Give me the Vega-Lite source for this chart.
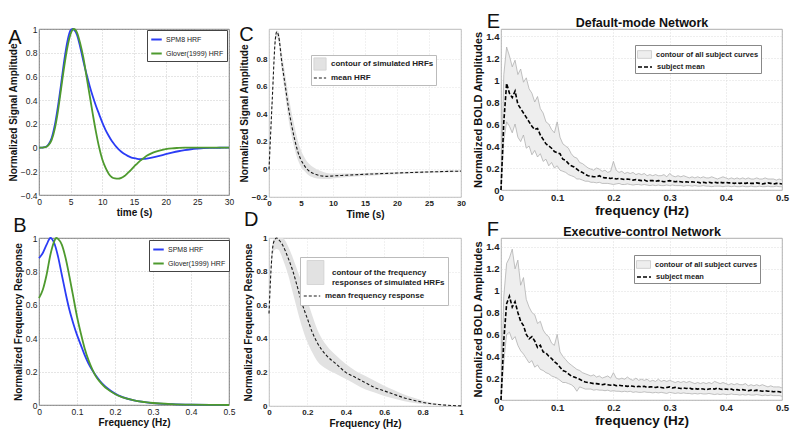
{
  "$schema": "https://vega.github.io/schema/vega-lite/v6.json",
  "padding": {"left": 7, "top": 11, "right": 5, "bottom": 5},
  "background": "white",
  "config": {
    "font": "Liberation Sans",
    "view": {"stroke": "#555", "strokeWidth": 0.8},
    "axis": {"ticks": false, "domain": false, "grid": true, "gridDash": [1, 2], "gridColor": "#b5b5b5", "gridWidth": 0.7, "labelPadding": 2, "labelColor": "#222", "titleColor": "#111", "titleFontWeight": "bold", "labelFlush": false, "labelOverlap": false, "titlePadding": 2},
    "title": {"anchor": "start", "frame": "bounds", "fontSize": 20, "fontWeight": "normal", "font": "Liberation Sans", "color": "#111", "offset": 0},
    "legend": {"orient": "none", "padding": 2, "rowPadding": 3, "cornerRadius": 0, "labelFontWeight": "bold", "labelColor": "#222", "labelFontSize": 8}
  },
  "resolve": {"scale": {"color": "independent", "strokeDash": "independent"}, "legend": {"color": "independent", "strokeDash": "independent"}},
  "datasets": {
    "a": [
      {"s":"SPM8 HRF","t":0,"v":0},{"s":"SPM8 HRF","t":0.5,"v":0},{"s":"SPM8 HRF","t":1,"v":0.003},{"s":"SPM8 HRF","t":1.5,"v":0.025},{"s":"SPM8 HRF","t":2,"v":0.08},{"s":"SPM8 HRF","t":2.5,"v":0.19},{"s":"SPM8 HRF","t":3,"v":0.35},{"s":"SPM8 HRF","t":3.5,"v":0.54},{"s":"SPM8 HRF","t":4,"v":0.74},{"s":"SPM8 HRF","t":4.5,"v":0.9},{"s":"SPM8 HRF","t":5,"v":0.99},{"s":"SPM8 HRF","t":5.3,"v":1},{"s":"SPM8 HRF","t":5.6,"v":0.99},{"s":"SPM8 HRF","t":6,"v":0.95},{"s":"SPM8 HRF","t":6.5,"v":0.85},{"s":"SPM8 HRF","t":7,"v":0.73},{"s":"SPM8 HRF","t":7.5,"v":0.62},{"s":"SPM8 HRF","t":8,"v":0.52},{"s":"SPM8 HRF","t":8.5,"v":0.43},{"s":"SPM8 HRF","t":9,"v":0.35},{"s":"SPM8 HRF","t":9.5,"v":0.28},{"s":"SPM8 HRF","t":10,"v":0.21},{"s":"SPM8 HRF","t":10.5,"v":0.15},{"s":"SPM8 HRF","t":11,"v":0.1},{"s":"SPM8 HRF","t":11.5,"v":0.055},{"s":"SPM8 HRF","t":12,"v":0.02},{"s":"SPM8 HRF","t":12.5,"v":-0.01},{"s":"SPM8 HRF","t":13,"v":-0.035},{"s":"SPM8 HRF","t":13.5,"v":-0.055},{"s":"SPM8 HRF","t":14,"v":-0.07},{"s":"SPM8 HRF","t":14.5,"v":-0.082},{"s":"SPM8 HRF","t":15,"v":-0.09},{"s":"SPM8 HRF","t":15.5,"v":-0.095},{"s":"SPM8 HRF","t":16,"v":-0.097},{"s":"SPM8 HRF","t":16.5,"v":-0.096},{"s":"SPM8 HRF","t":17,"v":-0.093},{"s":"SPM8 HRF","t":18,"v":-0.083},{"s":"SPM8 HRF","t":19,"v":-0.07},{"s":"SPM8 HRF","t":20,"v":-0.056},{"s":"SPM8 HRF","t":21,"v":-0.043},{"s":"SPM8 HRF","t":22,"v":-0.031},{"s":"SPM8 HRF","t":23,"v":-0.021},{"s":"SPM8 HRF","t":24,"v":-0.014},{"s":"SPM8 HRF","t":25,"v":-0.009},{"s":"SPM8 HRF","t":26,"v":-0.005},{"s":"SPM8 HRF","t":27,"v":-0.003},{"s":"SPM8 HRF","t":28,"v":-0.002},{"s":"SPM8 HRF","t":29,"v":-0.001},{"s":"SPM8 HRF","t":30,"v":0},
      {"s":"Glover(1999) HRF","t":0,"v":0},{"s":"Glover(1999) HRF","t":0.5,"v":0},{"s":"Glover(1999) HRF","t":1,"v":0.003},{"s":"Glover(1999) HRF","t":1.5,"v":0.02},{"s":"Glover(1999) HRF","t":2,"v":0.065},{"s":"Glover(1999) HRF","t":2.5,"v":0.16},{"s":"Glover(1999) HRF","t":3,"v":0.31},{"s":"Glover(1999) HRF","t":3.5,"v":0.5},{"s":"Glover(1999) HRF","t":4,"v":0.69},{"s":"Glover(1999) HRF","t":4.5,"v":0.85},{"s":"Glover(1999) HRF","t":5,"v":0.96},{"s":"Glover(1999) HRF","t":5.5,"v":1},{"s":"Glover(1999) HRF","t":6,"v":0.97},{"s":"Glover(1999) HRF","t":6.5,"v":0.88},{"s":"Glover(1999) HRF","t":7,"v":0.76},{"s":"Glover(1999) HRF","t":7.5,"v":0.6},{"s":"Glover(1999) HRF","t":8,"v":0.44},{"s":"Glover(1999) HRF","t":8.5,"v":0.28},{"s":"Glover(1999) HRF","t":9,"v":0.13},{"s":"Glover(1999) HRF","t":9.5,"v":0},{"s":"Glover(1999) HRF","t":10,"v":-0.1},{"s":"Glover(1999) HRF","t":10.5,"v":-0.17},{"s":"Glover(1999) HRF","t":11,"v":-0.22},{"s":"Glover(1999) HRF","t":11.5,"v":-0.25},{"s":"Glover(1999) HRF","t":12,"v":-0.26},{"s":"Glover(1999) HRF","t":12.5,"v":-0.262},{"s":"Glover(1999) HRF","t":13,"v":-0.255},{"s":"Glover(1999) HRF","t":13.5,"v":-0.24},{"s":"Glover(1999) HRF","t":14,"v":-0.215},{"s":"Glover(1999) HRF","t":14.5,"v":-0.19},{"s":"Glover(1999) HRF","t":15,"v":-0.16},{"s":"Glover(1999) HRF","t":15.5,"v":-0.135},{"s":"Glover(1999) HRF","t":16,"v":-0.11},{"s":"Glover(1999) HRF","t":16.5,"v":-0.09},{"s":"Glover(1999) HRF","t":17,"v":-0.07},{"s":"Glover(1999) HRF","t":18,"v":-0.043},{"s":"Glover(1999) HRF","t":19,"v":-0.025},{"s":"Glover(1999) HRF","t":20,"v":-0.013},{"s":"Glover(1999) HRF","t":21,"v":-0.006},{"s":"Glover(1999) HRF","t":22,"v":-0.003},{"s":"Glover(1999) HRF","t":23,"v":-0.001},{"s":"Glover(1999) HRF","t":24,"v":0},{"s":"Glover(1999) HRF","t":26,"v":0},{"s":"Glover(1999) HRF","t":28,"v":0},{"s":"Glover(1999) HRF","t":30,"v":0}
    ],
    "b": [
      {"s":"SPM8 HRF","f":0,"v":0.88},{"s":"SPM8 HRF","f":0.01,"v":0.91},{"s":"SPM8 HRF","f":0.02,"v":0.96},{"s":"SPM8 HRF","f":0.03,"v":1},{"s":"SPM8 HRF","f":0.04,"v":0.97},{"s":"SPM8 HRF","f":0.05,"v":0.89},{"s":"SPM8 HRF","f":0.06,"v":0.78},{"s":"SPM8 HRF","f":0.07,"v":0.67},{"s":"SPM8 HRF","f":0.08,"v":0.57},{"s":"SPM8 HRF","f":0.09,"v":0.49},{"s":"SPM8 HRF","f":0.1,"v":0.42},{"s":"SPM8 HRF","f":0.11,"v":0.36},{"s":"SPM8 HRF","f":0.12,"v":0.3},{"s":"SPM8 HRF","f":0.13,"v":0.25},{"s":"SPM8 HRF","f":0.14,"v":0.21},{"s":"SPM8 HRF","f":0.15,"v":0.175},{"s":"SPM8 HRF","f":0.16,"v":0.145},{"s":"SPM8 HRF","f":0.17,"v":0.12},{"s":"SPM8 HRF","f":0.18,"v":0.1},{"s":"SPM8 HRF","f":0.2,"v":0.068},{"s":"SPM8 HRF","f":0.22,"v":0.047},{"s":"SPM8 HRF","f":0.25,"v":0.027},{"s":"SPM8 HRF","f":0.3,"v":0.011},{"s":"SPM8 HRF","f":0.35,"v":0.005},{"s":"SPM8 HRF","f":0.4,"v":0.002},{"s":"SPM8 HRF","f":0.45,"v":0.001},{"s":"SPM8 HRF","f":0.5,"v":0},
      {"s":"Glover(1999) HRF","f":0,"v":0.64},{"s":"Glover(1999) HRF","f":0.01,"v":0.69},{"s":"Glover(1999) HRF","f":0.02,"v":0.78},{"s":"Glover(1999) HRF","f":0.03,"v":0.9},{"s":"Glover(1999) HRF","f":0.04,"v":0.98},{"s":"Glover(1999) HRF","f":0.045,"v":1},{"s":"Glover(1999) HRF","f":0.05,"v":0.995},{"s":"Glover(1999) HRF","f":0.06,"v":0.96},{"s":"Glover(1999) HRF","f":0.07,"v":0.88},{"s":"Glover(1999) HRF","f":0.08,"v":0.77},{"s":"Glover(1999) HRF","f":0.09,"v":0.65},{"s":"Glover(1999) HRF","f":0.1,"v":0.53},{"s":"Glover(1999) HRF","f":0.11,"v":0.43},{"s":"Glover(1999) HRF","f":0.12,"v":0.34},{"s":"Glover(1999) HRF","f":0.13,"v":0.27},{"s":"Glover(1999) HRF","f":0.14,"v":0.215},{"s":"Glover(1999) HRF","f":0.15,"v":0.17},{"s":"Glover(1999) HRF","f":0.16,"v":0.14},{"s":"Glover(1999) HRF","f":0.17,"v":0.115},{"s":"Glover(1999) HRF","f":0.18,"v":0.095},{"s":"Glover(1999) HRF","f":0.2,"v":0.066},{"s":"Glover(1999) HRF","f":0.22,"v":0.046},{"s":"Glover(1999) HRF","f":0.25,"v":0.028},{"s":"Glover(1999) HRF","f":0.3,"v":0.012},{"s":"Glover(1999) HRF","f":0.35,"v":0.005},{"s":"Glover(1999) HRF","f":0.4,"v":0.002},{"s":"Glover(1999) HRF","f":0.45,"v":0.001},{"s":"Glover(1999) HRF","f":0.5,"v":0}
    ],
    "c": [
      {"t":0,"m":0,"lo":0,"hi":0},{"t":0.5,"m":0.5,"lo":0.45,"hi":0.53},{"t":1,"m":0.95,"lo":0.92,"hi":0.98},{"t":1.2,"m":1,"lo":0.96,"hi":1.01},{"t":1.5,"m":0.97,"lo":0.93,"hi":1},{"t":2,"m":0.78,"lo":0.72,"hi":0.85},{"t":2.5,"m":0.62,"lo":0.55,"hi":0.7},{"t":3,"m":0.46,"lo":0.38,"hi":0.55},{"t":3.5,"m":0.33,"lo":0.25,"hi":0.42},{"t":4,"m":0.22,"lo":0.15,"hi":0.31},{"t":4.5,"m":0.13,"lo":0.07,"hi":0.21},{"t":5,"m":0.07,"lo":0.02,"hi":0.14},{"t":5.5,"m":0.03,"lo":-0.01,"hi":0.09},{"t":6,"m":0,"lo":-0.035,"hi":0.055},{"t":7,"m":-0.03,"lo":-0.06,"hi":0.015},{"t":8,"m":-0.045,"lo":-0.068,"hi":-0.01},{"t":9,"m":-0.05,"lo":-0.07,"hi":-0.025},{"t":10,"m":-0.047,"lo":-0.065,"hi":-0.03},{"t":12,"m":-0.042,"lo":-0.056,"hi":-0.03},{"t":15,"m":-0.035,"lo":-0.047,"hi":-0.025},{"t":20,"m":-0.026,"lo":-0.035,"hi":-0.018},{"t":25,"m":-0.018,"lo":-0.026,"hi":-0.011},{"t":30,"m":-0.012,"lo":-0.019,"hi":-0.006}
    ],
    "d": [
      {"f":0,"m":0.55,"lo":0.5,"hi":0.6},{"f":0.01,"m":0.8,"lo":0.75,"hi":0.85},{"f":0.02,"m":0.95,"lo":0.9,"hi":0.97},{"f":0.03,"m":0.99,"lo":0.93,"hi":1},{"f":0.04,"m":1,"lo":0.935,"hi":1},{"f":0.05,"m":0.99,"lo":0.93,"hi":1},{"f":0.07,"m":0.96,"lo":0.88,"hi":1},{"f":0.1,"m":0.88,"lo":0.78,"hi":0.95},{"f":0.125,"m":0.8,"lo":0.67,"hi":0.88},{"f":0.15,"m":0.7,"lo":0.56,"hi":0.8},{"f":0.175,"m":0.6,"lo":0.46,"hi":0.72},{"f":0.2,"m":0.52,"lo":0.38,"hi":0.63},{"f":0.225,"m":0.44,"lo":0.32,"hi":0.54},{"f":0.25,"m":0.38,"lo":0.27,"hi":0.46},{"f":0.3,"m":0.3,"lo":0.22,"hi":0.36},{"f":0.35,"m":0.25,"lo":0.19,"hi":0.3},{"f":0.4,"m":0.2,"lo":0.16,"hi":0.25},{"f":0.45,"m":0.17,"lo":0.13,"hi":0.21},{"f":0.5,"m":0.14,"lo":0.1,"hi":0.18},{"f":0.55,"m":0.11,"lo":0.08,"hi":0.15},{"f":0.6,"m":0.09,"lo":0.06,"hi":0.12},{"f":0.65,"m":0.07,"lo":0.045,"hi":0.095},{"f":0.7,"m":0.05,"lo":0.03,"hi":0.07},{"f":0.75,"m":0.035,"lo":0.02,"hi":0.05},{"f":0.8,"m":0.022,"lo":0.012,"hi":0.033},{"f":0.85,"m":0.013,"lo":0.006,"hi":0.02},{"f":0.9,"m":0.007,"lo":0.003,"hi":0.011},{"f":0.95,"m":0.003,"lo":0.001,"hi":0.005},{"f":1,"m":0.001,"lo":0,"hi":0.002}
    ],
    "e": [
      {"f":0,"m":0,"lo":0,"hi":0},{"f":0.005,"m":0.62,"lo":0.45,"hi":1.05},{"f":0.01,"m":0.97,"lo":0.62,"hi":1.3},{"f":0.015,"m":0.88,"lo":0.58,"hi":1.22},{"f":0.02,"m":0.84,"lo":0.52,"hi":1.12},{"f":0.025,"m":0.9,"lo":0.6,"hi":1.18},{"f":0.03,"m":0.78,"lo":0.48,"hi":1.05},{"f":0.035,"m":0.74,"lo":0.44,"hi":1.1},{"f":0.04,"m":0.7,"lo":0.5,"hi":0.98},{"f":0.045,"m":0.66,"lo":0.38,"hi":1.02},{"f":0.05,"m":0.62,"lo":0.4,"hi":0.92},{"f":0.055,"m":0.58,"lo":0.32,"hi":0.88},{"f":0.06,"m":0.55,"lo":0.36,"hi":0.8},{"f":0.065,"m":0.56,"lo":0.3,"hi":0.85},{"f":0.07,"m":0.5,"lo":0.33,"hi":0.74},{"f":0.075,"m":0.46,"lo":0.26,"hi":0.7},{"f":0.08,"m":0.42,"lo":0.28,"hi":0.62},{"f":0.085,"m":0.4,"lo":0.22,"hi":0.6},{"f":0.09,"m":0.38,"lo":0.25,"hi":0.55},{"f":0.095,"m":0.35,"lo":0.2,"hi":0.52},{"f":0.1,"m":0.34,"lo":0.22,"hi":0.62},{"f":0.105,"m":0.33,"lo":0.18,"hi":0.48},{"f":0.11,"m":0.28,"lo":0.17,"hi":0.42},{"f":0.115,"m":0.27,"lo":0.16,"hi":0.4},{"f":0.12,"m":0.24,"lo":0.14,"hi":0.38},{"f":0.125,"m":0.22,"lo":0.13,"hi":0.33},{"f":0.13,"m":0.21,"lo":0.12,"hi":0.3},{"f":0.135,"m":0.19,"lo":0.1,"hi":0.29},{"f":0.14,"m":0.17,"lo":0.1,"hi":0.25},{"f":0.145,"m":0.16,"lo":0.09,"hi":0.24},{"f":0.15,"m":0.14,"lo":0.08,"hi":0.22},{"f":0.155,"m":0.13,"lo":0.08,"hi":0.2},{"f":0.16,"m":0.125,"lo":0.07,"hi":0.19},{"f":0.165,"m":0.12,"lo":0.07,"hi":0.18},{"f":0.17,"m":0.12,"lo":0.065,"hi":0.2},{"f":0.175,"m":0.13,"lo":0.07,"hi":0.19},{"f":0.18,"m":0.115,"lo":0.06,"hi":0.17},{"f":0.185,"m":0.11,"lo":0.06,"hi":0.18},{"f":0.19,"m":0.11,"lo":0.06,"hi":0.16},{"f":0.195,"m":0.105,"lo":0.055,"hi":0.17},{"f":0.2,"m":0.11,"lo":0.05,"hi":0.26},{"f":0.205,"m":0.1,"lo":0.055,"hi":0.18},{"f":0.21,"m":0.105,"lo":0.06,"hi":0.16},{"f":0.215,"m":0.1,"lo":0.05,"hi":0.17},{"f":0.22,"m":0.095,"lo":0.05,"hi":0.15},{"f":0.225,"m":0.1,"lo":0.055,"hi":0.16},{"f":0.23,"m":0.095,"lo":0.05,"hi":0.15},{"f":0.235,"m":0.09,"lo":0.045,"hi":0.16},{"f":0.24,"m":0.095,"lo":0.05,"hi":0.14},{"f":0.245,"m":0.09,"lo":0.05,"hi":0.15},{"f":0.25,"m":0.085,"lo":0.045,"hi":0.14},{"f":0.255,"m":0.09,"lo":0.05,"hi":0.15},{"f":0.26,"m":0.08,"lo":0.045,"hi":0.13},{"f":0.265,"m":0.085,"lo":0.04,"hi":0.14},{"f":0.27,"m":0.085,"lo":0.045,"hi":0.13},{"f":0.275,"m":0.08,"lo":0.04,"hi":0.14},{"f":0.28,"m":0.085,"lo":0.045,"hi":0.13},{"f":0.285,"m":0.08,"lo":0.04,"hi":0.13},{"f":0.29,"m":0.075,"lo":0.04,"hi":0.14},{"f":0.295,"m":0.08,"lo":0.045,"hi":0.12},{"f":0.3,"m":0.085,"lo":0.04,"hi":0.15},{"f":0.305,"m":0.08,"lo":0.045,"hi":0.13},{"f":0.31,"m":0.075,"lo":0.04,"hi":0.12},{"f":0.315,"m":0.08,"lo":0.04,"hi":0.13},{"f":0.32,"m":0.075,"lo":0.04,"hi":0.12},{"f":0.325,"m":0.07,"lo":0.035,"hi":0.13},{"f":0.33,"m":0.075,"lo":0.04,"hi":0.12},{"f":0.335,"m":0.07,"lo":0.04,"hi":0.11},{"f":0.34,"m":0.075,"lo":0.035,"hi":0.12},{"f":0.345,"m":0.07,"lo":0.04,"hi":0.11},{"f":0.35,"m":0.07,"lo":0.035,"hi":0.12},{"f":0.355,"m":0.065,"lo":0.035,"hi":0.11},{"f":0.36,"m":0.07,"lo":0.04,"hi":0.12},{"f":0.365,"m":0.065,"lo":0.035,"hi":0.11},{"f":0.37,"m":0.07,"lo":0.035,"hi":0.11},{"f":0.375,"m":0.065,"lo":0.03,"hi":0.12},{"f":0.38,"m":0.07,"lo":0.035,"hi":0.11},{"f":0.385,"m":0.065,"lo":0.035,"hi":0.1},{"f":0.39,"m":0.07,"lo":0.035,"hi":0.11},{"f":0.395,"m":0.065,"lo":0.03,"hi":0.12},{"f":0.4,"m":0.07,"lo":0.035,"hi":0.11},{"f":0.405,"m":0.065,"lo":0.035,"hi":0.1},{"f":0.41,"m":0.065,"lo":0.03,"hi":0.11},{"f":0.415,"m":0.06,"lo":0.035,"hi":0.1},{"f":0.42,"m":0.065,"lo":0.03,"hi":0.11},{"f":0.425,"m":0.06,"lo":0.03,"hi":0.1},{"f":0.43,"m":0.065,"lo":0.035,"hi":0.11},{"f":0.435,"m":0.06,"lo":0.03,"hi":0.1},{"f":0.44,"m":0.065,"lo":0.03,"hi":0.11},{"f":0.445,"m":0.06,"lo":0.035,"hi":0.1},{"f":0.45,"m":0.06,"lo":0.03,"hi":0.1},{"f":0.455,"m":0.065,"lo":0.03,"hi":0.11},{"f":0.46,"m":0.06,"lo":0.035,"hi":0.1},{"f":0.465,"m":0.055,"lo":0.03,"hi":0.1},{"f":0.47,"m":0.06,"lo":0.03,"hi":0.11},{"f":0.475,"m":0.065,"lo":0.035,"hi":0.1},{"f":0.48,"m":0.06,"lo":0.03,"hi":0.1},{"f":0.485,"m":0.055,"lo":0.03,"hi":0.1},{"f":0.49,"m":0.06,"lo":0.035,"hi":0.09},{"f":0.495,"m":0.06,"lo":0.03,"hi":0.1},{"f":0.5,"m":0.055,"lo":0.03,"hi":0.09}
    ],
    "f": [
      {"f":0,"m":0,"lo":0,"hi":0},{"f":0.005,"m":0.55,"lo":0.35,"hi":0.95},{"f":0.01,"m":0.88,"lo":0.6,"hi":1.25},{"f":0.015,"m":0.95,"lo":0.62,"hi":1.3},{"f":0.02,"m":0.85,"lo":0.55,"hi":1.38},{"f":0.025,"m":0.9,"lo":0.58,"hi":1.2},{"f":0.03,"m":0.8,"lo":0.5,"hi":1.28},{"f":0.035,"m":0.72,"lo":0.45,"hi":1.05},{"f":0.04,"m":0.68,"lo":0.42,"hi":1.12},{"f":0.045,"m":0.6,"lo":0.38,"hi":0.92},{"f":0.05,"m":0.56,"lo":0.34,"hi":0.85},{"f":0.055,"m":0.58,"lo":0.36,"hi":0.8},{"f":0.06,"m":0.54,"lo":0.3,"hi":0.78},{"f":0.065,"m":0.48,"lo":0.32,"hi":0.7},{"f":0.07,"m":0.5,"lo":0.28,"hi":0.72},{"f":0.075,"m":0.44,"lo":0.27,"hi":0.64},{"f":0.08,"m":0.43,"lo":0.25,"hi":0.6},{"f":0.085,"m":0.4,"lo":0.24,"hi":0.58},{"f":0.09,"m":0.38,"lo":0.22,"hi":0.52},{"f":0.095,"m":0.35,"lo":0.21,"hi":0.5},{"f":0.1,"m":0.33,"lo":0.2,"hi":0.6},{"f":0.105,"m":0.3,"lo":0.18,"hi":0.44},{"f":0.11,"m":0.27,"lo":0.16,"hi":0.4},{"f":0.115,"m":0.26,"lo":0.16,"hi":0.37},{"f":0.12,"m":0.24,"lo":0.15,"hi":0.34},{"f":0.125,"m":0.22,"lo":0.14,"hi":0.32},{"f":0.13,"m":0.21,"lo":0.12,"hi":0.3},{"f":0.135,"m":0.2,"lo":0.08,"hi":0.28},{"f":0.14,"m":0.19,"lo":0.12,"hi":0.27},{"f":0.145,"m":0.175,"lo":0.11,"hi":0.25},{"f":0.15,"m":0.165,"lo":0.1,"hi":0.24},{"f":0.155,"m":0.16,"lo":0.1,"hi":0.23},{"f":0.16,"m":0.155,"lo":0.1,"hi":0.22},{"f":0.165,"m":0.15,"lo":0.09,"hi":0.23},{"f":0.17,"m":0.15,"lo":0.095,"hi":0.21},{"f":0.175,"m":0.145,"lo":0.09,"hi":0.22},{"f":0.18,"m":0.14,"lo":0.09,"hi":0.2},{"f":0.185,"m":0.145,"lo":0.085,"hi":0.21},{"f":0.19,"m":0.14,"lo":0.09,"hi":0.22},{"f":0.195,"m":0.135,"lo":0.08,"hi":0.2},{"f":0.2,"m":0.14,"lo":0.085,"hi":0.25},{"f":0.205,"m":0.13,"lo":0.08,"hi":0.2},{"f":0.21,"m":0.135,"lo":0.08,"hi":0.19},{"f":0.215,"m":0.13,"lo":0.075,"hi":0.2},{"f":0.22,"m":0.13,"lo":0.08,"hi":0.19},{"f":0.225,"m":0.125,"lo":0.075,"hi":0.21},{"f":0.23,"m":0.13,"lo":0.08,"hi":0.19},{"f":0.235,"m":0.125,"lo":0.07,"hi":0.18},{"f":0.24,"m":0.12,"lo":0.075,"hi":0.2},{"f":0.245,"m":0.125,"lo":0.07,"hi":0.18},{"f":0.25,"m":0.12,"lo":0.07,"hi":0.19},{"f":0.255,"m":0.125,"lo":0.075,"hi":0.18},{"f":0.26,"m":0.115,"lo":0.07,"hi":0.19},{"f":0.265,"m":0.12,"lo":0.07,"hi":0.17},{"f":0.27,"m":0.12,"lo":0.065,"hi":0.18},{"f":0.275,"m":0.115,"lo":0.07,"hi":0.17},{"f":0.28,"m":0.12,"lo":0.065,"hi":0.19},{"f":0.285,"m":0.115,"lo":0.07,"hi":0.17},{"f":0.29,"m":0.11,"lo":0.065,"hi":0.18},{"f":0.295,"m":0.115,"lo":0.06,"hi":0.17},{"f":0.3,"m":0.12,"lo":0.07,"hi":0.18},{"f":0.305,"m":0.11,"lo":0.065,"hi":0.17},{"f":0.31,"m":0.115,"lo":0.06,"hi":0.16},{"f":0.315,"m":0.11,"lo":0.065,"hi":0.17},{"f":0.32,"m":0.105,"lo":0.06,"hi":0.16},{"f":0.325,"m":0.11,"lo":0.065,"hi":0.17},{"f":0.33,"m":0.105,"lo":0.06,"hi":0.16},{"f":0.335,"m":0.11,"lo":0.06,"hi":0.17},{"f":0.34,"m":0.1,"lo":0.055,"hi":0.16},{"f":0.345,"m":0.105,"lo":0.06,"hi":0.15},{"f":0.35,"m":0.1,"lo":0.055,"hi":0.16},{"f":0.355,"m":0.105,"lo":0.06,"hi":0.15},{"f":0.36,"m":0.1,"lo":0.055,"hi":0.16},{"f":0.365,"m":0.095,"lo":0.055,"hi":0.15},{"f":0.37,"m":0.1,"lo":0.06,"hi":0.16},{"f":0.375,"m":0.105,"lo":0.055,"hi":0.15},{"f":0.38,"m":0.1,"lo":0.05,"hi":0.17},{"f":0.385,"m":0.11,"lo":0.055,"hi":0.16},{"f":0.39,"m":0.1,"lo":0.05,"hi":0.15},{"f":0.395,"m":0.095,"lo":0.055,"hi":0.16},{"f":0.4,"m":0.1,"lo":0.05,"hi":0.15},{"f":0.405,"m":0.095,"lo":0.05,"hi":0.14},{"f":0.41,"m":0.1,"lo":0.055,"hi":0.15},{"f":0.415,"m":0.09,"lo":0.05,"hi":0.14},{"f":0.42,"m":0.095,"lo":0.05,"hi":0.15},{"f":0.425,"m":0.09,"lo":0.045,"hi":0.14},{"f":0.43,"m":0.095,"lo":0.05,"hi":0.14},{"f":0.435,"m":0.09,"lo":0.045,"hi":0.15},{"f":0.44,"m":0.085,"lo":0.05,"hi":0.13},{"f":0.445,"m":0.09,"lo":0.045,"hi":0.14},{"f":0.45,"m":0.085,"lo":0.045,"hi":0.13},{"f":0.455,"m":0.09,"lo":0.05,"hi":0.14},{"f":0.46,"m":0.085,"lo":0.045,"hi":0.13},{"f":0.465,"m":0.08,"lo":0.04,"hi":0.14},{"f":0.47,"m":0.085,"lo":0.045,"hi":0.13},{"f":0.475,"m":0.08,"lo":0.04,"hi":0.12},{"f":0.48,"m":0.08,"lo":0.045,"hi":0.13},{"f":0.485,"m":0.075,"lo":0.04,"hi":0.12},{"f":0.49,"m":0.08,"lo":0.04,"hi":0.12},{"f":0.495,"m":0.075,"lo":0.04,"hi":0.12},{"f":0.5,"m":0.07,"lo":0.035,"hi":0.11}
    ]
  },
  "columns": 3,
  "bounds": "flush",
  "align": "each",
  "spacing": {"row": 41, "column": 40},
  "concat": [
    {
      "width": 190, "height": 166,
      "title": {"text": "A", "dy": 27},
      "data": {"name": "a"},
      "mark": {"type": "line", "strokeWidth": 1.8, "interpolate": "monotone"},
      "encoding": {
        "x": {"field": "t", "type": "quantitative", "scale": {"domain": [0, 30], "nice": false}, "axis": {"values": [0, 5, 10, 15, 20, 25, 30], "title": "time (s)", "labelFontSize": 8.5, "titleFontSize": 10}},
        "y": {"field": "v", "type": "quantitative", "scale": {"domain": [-0.4, 1], "nice": false}, "axis": {"values": [-0.4, -0.2, 0, 0.2, 0.4, 0.6, 0.8, 1], "format": "~g", "title": "Normalized Signal Amplitude", "labelFontSize": 8.5, "titleFontSize": 10}},
        "color": {"field": "s", "type": "nominal", "scale": {"domain": ["SPM8 HRF", "Glover(1999) HRF"], "range": ["#2b3cf5", "#4e9a2e"]},
          "legend": {"title": null, "legendX": 108, "legendY": 1, "strokeColor": "#444", "fillColor": "white", "padding": 3, "labelOffset": 3, "symbolType": "stroke", "symbolStrokeWidth": 2, "symbolSize": 110, "labelFontSize": 7, "labelFontWeight": "normal"}}
      }
    },
    {
      "width": 192, "height": 168,
      "title": {"text": "C", "dy": 20},
      "view": {"stroke": "#aaa"},
      "data": {"name": "c"},
      "resolve": {"axis": {"x": "independent", "y": "independent"}},
      "layer": [
        {"mark": {"type": "area", "interpolate": "monotone", "opacity": 1},
         "encoding": {
          "x": {"field": "t", "type": "quantitative", "scale": {"domain": [0, 30], "nice": false}, "axis": {"values": [0, 5, 10, 15, 20, 25, 30], "title": "Time (s)", "labelFontSize": 8, "labelFontWeight": "bold", "titleFontSize": 10, "gridColor": "#d8d8d8"}},
          "y": {"field": "lo", "type": "quantitative", "scale": {"domain": [-0.2, 1.02], "nice": false}, "axis": {"values": [-0.2, 0, 0.2, 0.4, 0.6, 0.8], "format": "~g", "title": "Normalized Signal Amplitude", "labelFontSize": 8, "labelFontWeight": "bold", "titleFontSize": 10, "gridColor": "#d8d8d8"}},
          "y2": {"field": "hi"},
          "color": {"datum": "contour of simulated HRFs", "type": "nominal", "scale": {"range": ["#e2e2e2"]},
            "legend": {"title": " ", "titleOrient": "bottom", "titleFontSize": 10, "titlePadding": 1, "legendX": 42, "legendY": 26, "strokeColor": "#bbb", "fillColor": "white", "symbolType": "square", "symbolSize": 150, "symbolStrokeColor": "#cfcfcf", "symbolStrokeWidth": 0.8}}
         }},
        {"mark": {"type": "line", "strokeWidth": 1.1, "interpolate": "monotone", "color": "#1a1a1a"},
         "encoding": {
          "x": {"field": "t", "type": "quantitative", "axis": null},
          "y": {"field": "m", "type": "quantitative", "axis": null},
          "strokeDash": {"datum": "mean HRF", "type": "nominal", "scale": {"range": [[3, 2]]},
            "legend": {"title": null, "legendX": 42, "legendY": 40, "symbolType": "stroke", "symbolSize": 150, "symbolStrokeColor": "#1a1a1a", "symbolStrokeWidth": 1.1}}
         }}
      ]
    },
    {
      "width": 281, "height": 161,
      "title": {"text": "E", "dx": 14, "dy": 20},
      "view": {"stroke": "#999"},
      "data": {"name": "e"},
      "resolve": {"axis": {"x": "independent", "y": "independent"}},
      "layer": [
        {"mark": {"type": "area", "opacity": 1},
         "encoding": {
          "x": {"field": "f", "type": "quantitative", "scale": {"domain": [0, 0.5], "nice": false}, "axis": {"values": [0, 0.1, 0.2, 0.3, 0.4, 0.5], "format": "~g", "title": "frequency (Hz)", "labelFontSize": 9.5, "labelFontWeight": "bold", "titleFontSize": 13.5, "gridColor": "#cfcfcf"}},
          "y": {"field": "lo", "type": "quantitative", "scale": {"domain": [0, 1.464], "nice": false}, "axis": {"values": [0, 0.2, 0.4, 0.6, 0.8, 1, 1.2, 1.4], "format": "~g", "title": "Normalized BOLD Amplitudes", "labelFontSize": 9.5, "labelFontWeight": "bold", "titleFontSize": 11, "gridColor": "#cfcfcf"}},
          "y2": {"field": "hi"},
          "color": {"datum": "contour of all subject curves", "type": "nominal", "scale": {"range": ["#eeeeee"]},
            "legend": {"title": " ", "titleOrient": "bottom", "titleFontSize": 10, "titlePadding": 1, "legendX": 134, "legendY": 16, "strokeColor": "#888", "fillColor": "white", "symbolType": "M-1,-0.55H1V0.55H-1Z", "symbolSize": 196, "symbolStrokeColor": "#c8c8c8", "symbolStrokeWidth": 0.8, "labelFontSize": 7.5}}
         }},
        {"mark": {"type": "line", "strokeWidth": 0.7, "color": "#a8a8a8"},
         "encoding": {"x": {"field": "f", "type": "quantitative", "axis": null}, "y": {"field": "hi", "type": "quantitative", "axis": null}}},
        {"mark": {"type": "line", "strokeWidth": 0.7, "color": "#a8a8a8"},
         "encoding": {"x": {"field": "f", "type": "quantitative", "axis": null}, "y": {"field": "lo", "type": "quantitative", "axis": null}}},
        {"mark": {"type": "line", "strokeWidth": 1.6, "color": "#000000"},
         "encoding": {
          "x": {"field": "f", "type": "quantitative", "axis": {"orient": "top", "title": "Default-mode Network", "labels": false, "ticks": false, "domain": false, "grid": false, "titleFontSize": 12.5, "titlePadding": 0}},
          "y": {"field": "m", "type": "quantitative", "axis": null},
          "strokeDash": {"datum": "subject mean", "type": "nominal", "scale": {"range": [[4, 2]]},
            "legend": {"title": null, "legendX": 134, "legendY": 28, "symbolType": "stroke", "symbolSize": 196, "symbolStrokeColor": "#000000", "symbolStrokeWidth": 1.6, "labelFontSize": 7.5}}
         }}
      ]
    },
    {
      "width": 190, "height": 167,
      "title": {"text": "B", "dy": 6},
      "data": {"name": "b"},
      "mark": {"type": "line", "strokeWidth": 1.8, "interpolate": "monotone"},
      "encoding": {
        "x": {"field": "f", "type": "quantitative", "scale": {"domain": [0, 0.5], "nice": false}, "axis": {"values": [0, 0.1, 0.2, 0.3, 0.4, 0.5], "format": "~g", "title": "Frequency (Hz)", "labelFontSize": 8.5, "titleFontSize": 10}},
        "y": {"field": "v", "type": "quantitative", "scale": {"domain": [0, 1], "nice": false}, "axis": {"values": [0, 0.2, 0.4, 0.6, 0.8, 1], "format": "~g", "title": "Normalized Frequency Response", "labelFontSize": 8.5, "titleFontSize": 10}},
        "color": {"field": "s", "type": "nominal", "scale": {"domain": ["SPM8 HRF", "Glover(1999) HRF"], "range": ["#2b3cf5", "#4e9a2e"]},
          "legend": {"title": null, "legendX": 110, "legendY": 2, "strokeColor": "#444", "fillColor": "white", "padding": 3, "labelOffset": 3, "symbolType": "stroke", "symbolStrokeWidth": 2, "symbolSize": 110, "labelFontSize": 7, "labelFontWeight": "normal"}}
      }
    },
    {
      "width": 192, "height": 168,
      "title": {"text": "D", "dy": 0},
      "view": {"stroke": "#aaa"},
      "data": {"name": "d"},
      "resolve": {"axis": {"x": "independent", "y": "independent"}},
      "layer": [
        {"mark": {"type": "area", "interpolate": "monotone", "opacity": 1},
         "encoding": {
          "x": {"field": "f", "type": "quantitative", "scale": {"domain": [0, 1], "nice": false}, "axis": {"values": [0, 0.2, 0.4, 0.6, 0.8, 1], "format": "~g", "title": "Frequency (Hz)", "labelFontSize": 8, "labelFontWeight": "bold", "titleFontSize": 10, "gridColor": "#d8d8d8"}},
          "y": {"field": "lo", "type": "quantitative", "scale": {"domain": [0, 1], "nice": false}, "axis": {"values": [0, 0.2, 0.4, 0.6, 0.8, 1], "format": "~g", "title": "Normalized Frequency Response", "labelFontSize": 8, "labelFontWeight": "bold", "titleFontSize": 10, "gridColor": "#d8d8d8"}},
          "y2": {"field": "hi"},
          "color": {"datum": "contour of the frequency responses of simulated HRFs", "type": "nominal", "scale": {"range": ["#e2e2e2"]},
            "legend": {"title": " ", "titleOrient": "bottom", "titleFontSize": 13, "titlePadding": 2, "legendX": 31, "legendY": 19, "strokeColor": "#bbb", "fillColor": "white", "padding": 3, "labelLimit": 200, "symbolType": "M-0.7,-1H0.7V1H-0.7Z", "symbolSize": 576, "symbolStrokeColor": "#cfcfcf", "symbolStrokeWidth": 0.8,
              "labelExpr": "['contour of the frequency', 'responses of simulated HRFs']"}}
         }},
        {"mark": {"type": "line", "strokeWidth": 1.1, "interpolate": "monotone", "color": "#1a1a1a"},
         "encoding": {
          "x": {"field": "f", "type": "quantitative", "axis": null},
          "y": {"field": "m", "type": "quantitative", "axis": null},
          "strokeDash": {"datum": "mean frequency response", "type": "nominal", "scale": {"range": [[3, 2]]},
            "legend": {"title": null, "legendX": 32, "legendY": 47, "symbolType": "stroke", "symbolSize": 270, "symbolStrokeColor": "#1a1a1a", "symbolStrokeWidth": 1.1}}
         }}
      ]
    },
    {
      "width": 281, "height": 162,
      "title": {"text": "F", "dx": 14, "dy": 19},
      "view": {"stroke": "#999"},
      "data": {"name": "f"},
      "resolve": {"axis": {"x": "independent", "y": "independent"}},
      "layer": [
        {"mark": {"type": "area", "opacity": 1},
         "encoding": {
          "x": {"field": "f", "type": "quantitative", "scale": {"domain": [0, 0.5], "nice": false}, "axis": {"values": [0, 0.1, 0.2, 0.3, 0.4, 0.5], "format": "~g", "title": "frequency (Hz)", "labelFontSize": 9.5, "labelFontWeight": "bold", "titleFontSize": 13.5, "gridColor": "#cfcfcf"}},
          "y": {"field": "lo", "type": "quantitative", "scale": {"domain": [0, 1.482], "nice": false}, "axis": {"values": [0, 0.2, 0.4, 0.6, 0.8, 1, 1.2, 1.4], "format": "~g", "title": "Normalized BOLD Amplitudes", "labelFontSize": 9.5, "labelFontWeight": "bold", "titleFontSize": 11, "gridColor": "#cfcfcf"}},
          "y2": {"field": "hi"},
          "color": {"datum": "contour of all subject curves", "type": "nominal", "scale": {"range": ["#eeeeee"]},
            "legend": {"title": " ", "titleOrient": "bottom", "titleFontSize": 10, "titlePadding": 1, "legendX": 133, "legendY": 17, "strokeColor": "#888", "fillColor": "white", "symbolType": "M-1,-0.55H1V0.55H-1Z", "symbolSize": 196, "symbolStrokeColor": "#c8c8c8", "symbolStrokeWidth": 0.8, "labelFontSize": 7.5}}
         }},
        {"mark": {"type": "line", "strokeWidth": 0.7, "color": "#a8a8a8"},
         "encoding": {"x": {"field": "f", "type": "quantitative", "axis": null}, "y": {"field": "hi", "type": "quantitative", "axis": null}}},
        {"mark": {"type": "line", "strokeWidth": 0.7, "color": "#a8a8a8"},
         "encoding": {"x": {"field": "f", "type": "quantitative", "axis": null}, "y": {"field": "lo", "type": "quantitative", "axis": null}}},
        {"mark": {"type": "line", "strokeWidth": 1.6, "color": "#000000"},
         "encoding": {
          "x": {"field": "f", "type": "quantitative", "axis": {"orient": "top", "title": "Executive-control Network", "labels": false, "ticks": false, "domain": false, "grid": false, "titleFontSize": 12.5, "titlePadding": 0}},
          "y": {"field": "m", "type": "quantitative", "axis": null},
          "strokeDash": {"datum": "subject mean", "type": "nominal", "scale": {"range": [[4, 2]]},
            "legend": {"title": null, "legendX": 133, "legendY": 29, "symbolType": "stroke", "symbolSize": 196, "symbolStrokeColor": "#000000", "symbolStrokeWidth": 1.6, "labelFontSize": 7.5}}
         }}
      ]
    }
  ]
}
